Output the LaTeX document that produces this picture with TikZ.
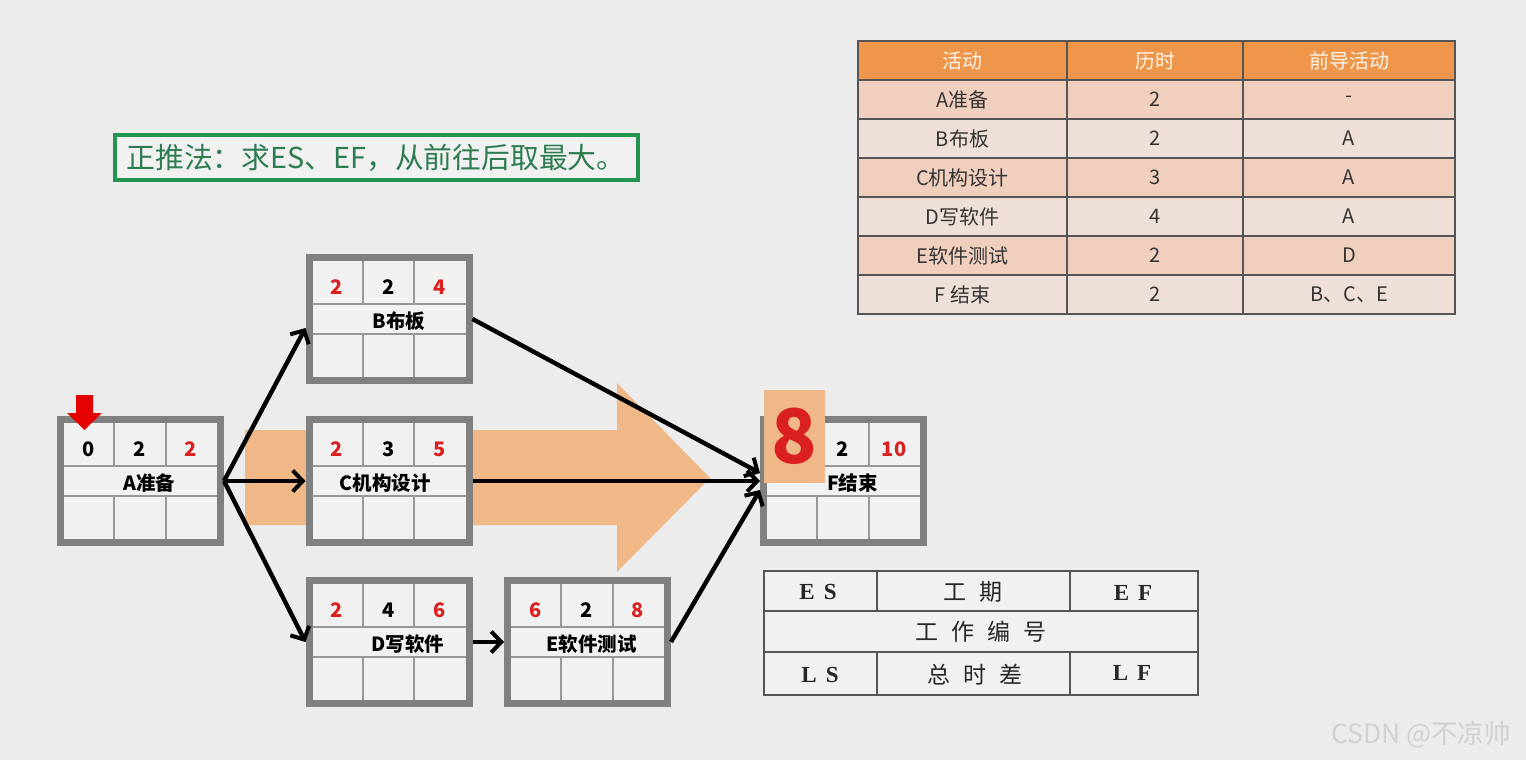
\documentclass[tikz,border=0pt]{standalone}
\usepackage{fontspec}
\setmainfont{Liberation Serif}
\newfontfamily\cjk{Noto Sans CJK SC}
\usetikzlibrary{arrows.meta,positioning,calc}
\definecolor{bg}{RGB}{236,236,236}
\definecolor{cellbg}{RGB}{241,241,241}
\definecolor{boxgray}{RGB}{128,128,128}
\definecolor{linegray}{RGB}{152,152,152}
\definecolor{peach}{RGB}{240,184,134}
\definecolor{numred}{RGB}{218,32,32}
\definecolor{hdr}{RGB}{239,150,75}
\definecolor{rowa}{RGB}{241,207,191}
\definecolor{rowb}{RGB}{238,224,217}
\definecolor{tabline}{RGB}{85,85,85}
\definecolor{ruleg}{RGB}{34,150,80}
\definecolor{textg}{RGB}{45,125,80}

\begin{document}
\begin{tikzpicture}[x=1pt,y=-1pt,
  act/.style={draw=boxgray,line width=7pt,fill=cellbg,minimum width=160pt,minimum height=123pt,inner sep=0pt},
  cellln/.style={draw=linegray,line width=1.8pt},
  num/.style={font=\cjk\bfseries\fontsize{20}{20}\selectfont,inner sep=0pt},
  lab/.style={font=\cjk\bfseries\fontsize{19.5}{19.5}\selectfont,inner sep=0pt},
  lnk/.style={-{Straight Barb[length=10pt,width=21pt,line width=4pt]},line width=4.4pt},
  tabtxt/.style={font=\cjk\fontsize{20}{20}\selectfont,text=black!80,inner sep=0pt},
  leg/.style={font=\cjk\fontsize{23}{23}\selectfont,text=black!85,inner sep=0pt},
  legb/.style={font=\bfseries\fontsize{23}{23}\selectfont,text=black!85,inner sep=0pt}]

  \fill[bg] (0,0) rectangle (1526,760);

  % big arrow behind C
  \fill[peach] (245,430) -- (617,430) -- (617,383) -- (710,478) -- (617,572) -- (617,525) -- (245,525) -- cycle;

  % activity boxes
  \node[act](A) at (140.5,481){};
  \node[act](B) at (389,319){};
  \node[act](C) at (389,481){};
  \node[act](D) at (389,642){};
  \node[act](E) at (587.5,642){};
  \node[act](F) at (843.5,481){};

  \foreach \n in {A,B,C,D,E,F}{
    \draw[cellln] ($(\n.north west)+(7,50)$) -- ($(\n.north east)+(-7,50)$);
    \draw[cellln] ($(\n.north west)+(7,80)$) -- ($(\n.north east)+(-7,80)$);
    \draw[cellln] ($(\n.north west)+(57.3,7)$) -- ($(\n.north west)+(57.3,50)$);
    \draw[cellln] ($(\n.north west)+(108.7,7)$) -- ($(\n.north west)+(108.7,50)$);
    \draw[cellln] ($(\n.north west)+(57.3,80)$) -- ($(\n.north west)+(57.3,123)$);
    \draw[cellln] ($(\n.north west)+(108.7,80)$) -- ($(\n.north west)+(108.7,123)$);
  }

  \foreach \n/\ca/\a/\b/\c/\t/\dx in {A/black/0/2/2/A准备/9, B/numred/2/2/4/B布板/10,
      C/numred/2/3/5/C机构设计/-4, D/numred/2/4/6/D写软件/19, E/numred/6/2/8/E软件测试/4}{
    \node[num,text=\ca] (\n-es) at ($(\n.north west)+(31.5,33)$) {\a};
    \node[num] (\n-du) at ($(\n.north west)+(83,33)$) {\b};
    \node[num,text=numred] (\n-ef) at ($(\n.north west)+(134,33)$) {\c};
    \node[lab] (\n-name) at ($(\n.center)+(\dx,2)$) {\t};
  }
  \node[num] (F-du) at ($(F.north west)+(83,33)$) {2};
  \node[num,text=numred] (F-ef) at ($(F.north west)+(134,33)$) {10};
  \node[lab] (F-name) at ($(F.center)+(9,2)$) {F结束};

  % start marker and result
  \fill[red!90!black] (76,395) -- (93,395) -- (93,413) -- (102,413) -- (84.5,430) -- (67,413) -- (76,413) -- cycle;
  \node[fill=peach,minimum width=61pt,minimum height=93pt,inner sep=0pt,text=numred,
    font=\cjk\bfseries\fontsize{75}{75}\selectfont] (eight) at (794.5,436.5) {8};

  % links
  \draw[lnk] (A.east) -- ([yshift=-9pt]B.west);
  \draw[lnk] (A.east) -- (C.west);
  \draw[lnk] (A.east) -- (D.west);
  \draw[lnk] (D.east) -- (E.west);
  \draw[lnk] (B.east) -- ([yshift=8pt]F.west);
  \draw[lnk] (C.east) -- (F.west);
  \draw[lnk] (E.east) -- ([yshift=-9pt]F.west);

  % rule
  \node[draw=ruleg,line width=4pt,fill=cellbg,minimum width=523pt,minimum height=45pt,inner sep=0pt,
    text=textg,font=\cjk\fontsize{28.8}{28.8}\selectfont] (rule) at (376,157.5) {正推法：求ES、EF，从前往后取最大。};

  % activity table
  \fill[hdr] (858,41) rectangle (1455,80);
  \node[tabtxt,text=white!92!orange] (h1) at (962.5,60.5) {活动};
  \node[tabtxt,text=white!92!orange] (h2) at (1155,60.5) {历时};
  \node[tabtxt,text=white!92!orange] (h3) at (1349,60.5) {前导活动};
  \foreach \f/\p/\q/\r [count=\i] in {rowa/A准备/2/-, rowb/B布板/2/A, rowa/C机构设计/3/A,
      rowb/D写软件/4/A, rowa/E软件测试/2/D, rowb/F 结束/2/B、C、E}{
    \fill[\f] (858,{41+39*\i}) rectangle (1455,{80+39*\i});
    \node[tabtxt] (t\i-a) at (962.5,{60.5+39*\i}) {\p};
    \node[tabtxt] (t\i-b) at (1155,{60.5+39*\i}) {\q};
    \node[tabtxt] (t\i-c) at (1349,{60.5+39*\i}) {\r};
  }
  \draw[tabline,line width=1.5pt] (858,41) rectangle (1455,314)
    (1067,41) -- (1067,314) (1243,41) -- (1243,314);
  \foreach \y in {80,119,158,197,236,275}
    \draw[tabline,line width=1.5pt] (858,\y) -- (1455,\y);

  % legend
  \fill[cellbg] (764,571) rectangle (1198,695);
  \draw[tabline,line width=1.5pt] (764,571) rectangle (1198,695)
    (764,611) -- (1198,611) (764,652) -- (1198,652)
    (877,571) -- (877,611) (1070,571) -- (1070,611)
    (877,652) -- (877,695) (1070,652) -- (1070,695);
  \node[legb] (l-es) at (818,592) {E\hspace{9pt}S};
  \node[leg] (l-du) at (973,592) {工\hspace{13pt}期};
  \node[legb] (l-ef) at (1133,593) {E\hspace{9pt}F};
  \node[leg] (l-no) at (981,632) {工\hspace{13pt}作\hspace{13pt}编\hspace{13pt}号};
  \node[legb] (l-ls) at (820,675) {L\hspace{9pt}S};
  \node[leg] (l-tf) at (975,675) {总\hspace{13pt}时\hspace{13pt}差};
  \node[legb] (l-lf) at (1132,673) {L\hspace{9pt}F};

  \node[font=\cjk\fontsize{26.5}{26.5}\selectfont,text=black!18] (wm) at (1421,735) {CSDN @不凉帅};
\end{tikzpicture}
\end{document}
